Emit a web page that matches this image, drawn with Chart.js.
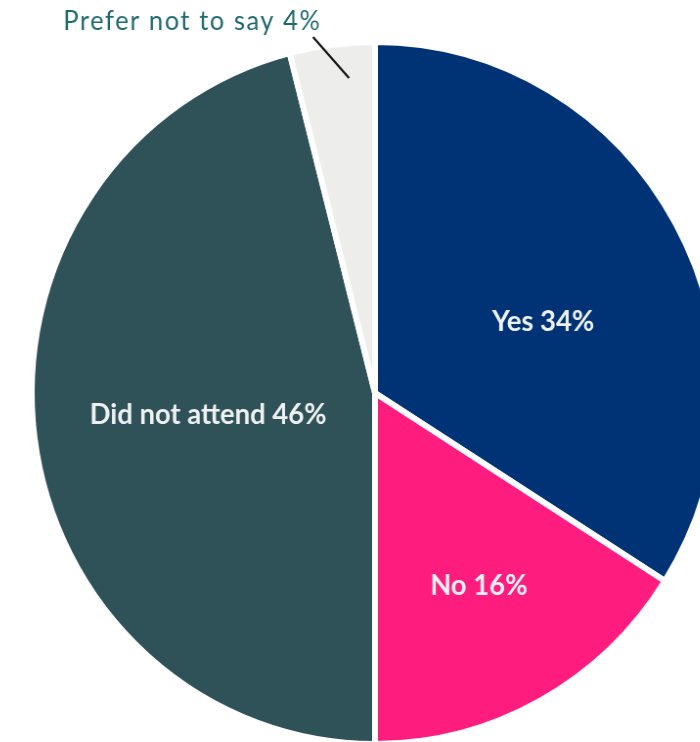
<!DOCTYPE html>
<html><head><meta charset="utf-8">
<script src="https://cdn.jsdelivr.net/npm/chart.js@4.4.1/dist/chart.umd.min.js"></script>
<style>
html,body{margin:0;padding:0;background:#fff;overflow:hidden;width:700px;height:742px;}
#wrap{position:absolute;left:0;top:0;width:760px;height:760px;transform:scaleX(0.978);transform-origin:375px 0;}
</style></head>
<body>
<div id="wrap"><canvas id="c" width="760" height="760"></canvas></div>
<script>
const categories = ["Yes", "No", "Did not attend", "Prefer not to say"];
const values = [34, 16, 46, 4];
const colors = ["#003376", "#FF1C7F", "#2F5158", "#EDEDEB"];

const labelPlugin = {
  id: 'sliceLabels',
  afterDatasetsDraw(chart) {
    const ctx = chart.ctx;
    const meta = chart.getDatasetMeta(0);
    const fracs = [0.53, 0.628, 0.49, 0.9];
    const offs = [[9, 19], [0, 0], [0, 0], [13, -1.5]];
    meta.data.forEach((arc, i) => {
      const p = arc.getProps(['x','y','startAngle','endAngle','outerRadius'], true);
      const mid = (p.startAngle + p.endAngle) / 2;
      const r = p.outerRadius * fracs[i];
      const tx = p.x + Math.cos(mid) * r + offs[i][0];
      const ty = p.y + Math.sin(mid) * r + offs[i][1];
      const text = categories[i] + ' ' + values[i] + '%';
      ctx.save();
      if (i < 3) {
        ctx.font = 'bold 28px Lato';
        ctx.fillStyle = '#EEF1F1';
        ctx.textAlign = 'center';
        ctx.textBaseline = 'middle';
        ctx.fillText(text, tx, ty);
      } else {
        const x2 = tx - 36.8, y2 = ty - 41;
        ctx.strokeStyle = '#151515';
        ctx.lineWidth = 2.2;
        ctx.beginPath(); ctx.moveTo(tx, ty); ctx.lineTo(x2, y2); ctx.stroke();
        ctx.font = '26px Lato';
        ctx.letterSpacing = '1.6px';
        ctx.fillStyle = '#1F6A6D';
        ctx.textAlign = 'right';
        ctx.textBaseline = 'middle';
        ctx.fillText(text, x2 + 8.5, y2 - 15);
      }
      ctx.restore();
    });
  }
};

new Chart(document.getElementById('c'), {
  type: 'pie',
  data: {
    labels: categories,
    datasets: [{
      data: values,
      backgroundColor: colors,
      borderColor: '#ffffff',
      borderWidth: 6,
      hoverOffset: 0
    }]
  },
  options: {
    responsive: false,
    animation: false,
    layout: { padding: { left: 21, top: 39, right: 31, bottom: 13 } },
    plugins: { legend: { display: false }, tooltip: { enabled: false } }
  },
  plugins: [labelPlugin]
});
</script>
</body></html>
